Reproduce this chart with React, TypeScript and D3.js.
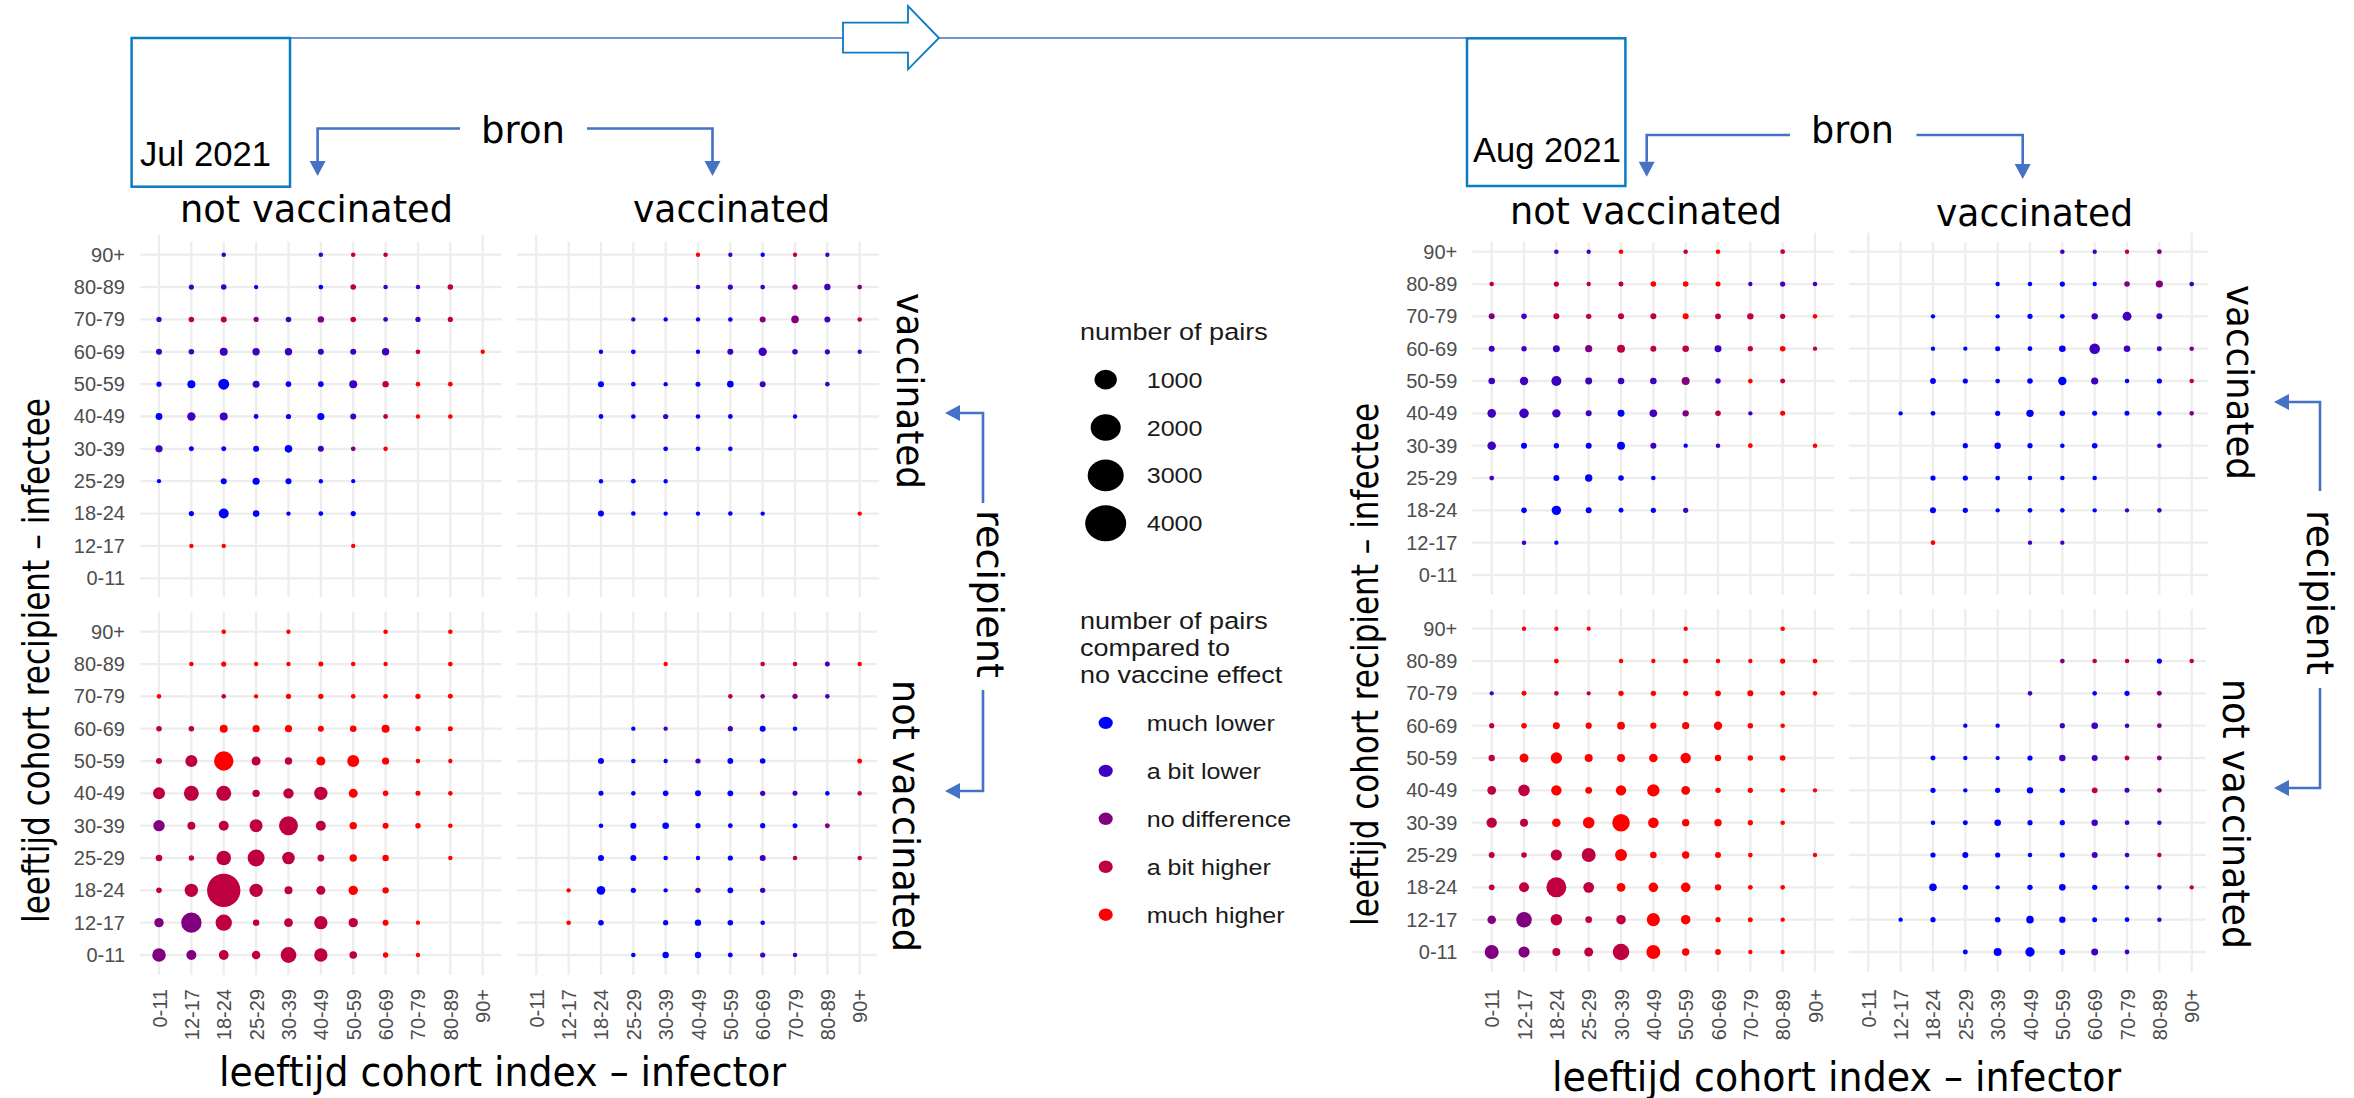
import React, { useEffect, useRef } from 'react';
import * as d3 from 'd3';

const ages = [ '0-11', '12-17', '18-24', '25-29', '30-39', '40-49', '50-59', '60-69', '70-79', '80-89', '90+' ];
const agesTopDown = [ ...ages ].reverse();

// rows run from 90+ down to 0-11, columns from 0-11 to 90+
// levels: 0 much lower .. 4 much higher, '.' = no pairs
const julVaccByUnvaccPairs = [
	[ 0, 0, 7, 0, 0, 7, 7, 7, 0, 0, 0 ],
	[ 0, 15, 21, 5, 0, 9, 21, 7, 7, 21, 0 ],
	[ 15, 21, 29, 15, 21, 38, 21, 9, 15, 15, 0 ],
	[ 29, 21, 85, 65, 65, 29, 29, 65, 9, 0, 5 ],
	[ 15, 85, 225, 53, 21, 21, 85, 38, 7, 9, 0 ],
	[ 48, 100, 85, 9, 15, 59, 29, 9, 5, 7, 0 ],
	[ 59, 12, 12, 29, 72, 29, 9, 7, 0, 0, 0 ],
	[ 4, 0, 29, 59, 29, 5, 4, 0, 0, 0, 0 ],
	[ 0, 15, 171, 43, 5, 9, 15, 0, 0, 0, 0 ],
	[ 0, 5, 5, 0, 0, 0, 5, 0, 0, 0, 0 ],
	[ 0, 0, 0, 0, 0, 0, 0, 0, 0, 0, 0 ],
];
const julVaccByUnvaccLevels = [
	'..1..133...', '.110.03113.', '1332123113.', '111111113.4', '0001001344.', '0110001344.',
	'10000124...', '0.00000....', '.000000....', '.44...4....', '...........',
];

const julVaccByVaccPairs = [
	[ 0, 0, 0, 0, 0, 5, 5, 5, 5, 5, 0 ],
	[ 0, 0, 0, 0, 0, 7, 15, 9, 18, 38, 9 ],
	[ 0, 0, 0, 5, 5, 5, 7, 29, 72, 29, 7 ],
	[ 0, 0, 5, 9, 0, 5, 29, 100, 21, 15, 5 ],
	[ 0, 0, 29, 7, 5, 12, 43, 29, 0, 7, 0 ],
	[ 0, 0, 9, 7, 15, 7, 9, 0, 5, 0, 0 ],
	[ 0, 0, 0, 0, 9, 9, 7, 0, 0, 0, 0 ],
	[ 0, 0, 5, 9, 5, 0, 0, 0, 0, 0, 0 ],
	[ 0, 0, 29, 7, 5, 5, 7, 5, 0, 0, 5 ],
	[ 0, 0, 0, 0, 0, 0, 0, 0, 0, 0, 0 ],
	[ 0, 0, 0, 0, 0, 0, 0, 0, 0, 0, 0 ],
];
const julVaccByVaccLevels = [
	'.....41031.', '.....111212', '...10002213', '..00.011111', '..000001.1.', '..00100.0..',
	'....000....', '..000......', '..000000..4', '...........', '...........',
];

const julUnvaccByUnvaccPairs = [
	[ 0, 0, 7, 0, 5, 0, 0, 7, 0, 7, 0 ],
	[ 0, 7, 15, 5, 5, 12, 7, 5, 0, 9, 0 ],
	[ 7, 0, 7, 5, 15, 15, 7, 9, 15, 12, 0 ],
	[ 21, 21, 85, 59, 59, 29, 43, 85, 18, 12, 0 ],
	[ 29, 286, 971, 124, 65, 124, 286, 59, 7, 5, 0 ],
	[ 286, 515, 515, 65, 192, 385, 124, 21, 12, 7, 0 ],
	[ 249, 85, 171, 355, 923, 171, 65, 29, 18, 7, 0 ],
	[ 43, 18, 481, 704, 327, 48, 65, 38, 0, 5, 0 ],
	[ 21, 385, 3373, 385, 85, 124, 142, 38, 0, 0, 0 ],
	[ 142, 1094, 644, 38, 116, 385, 142, 29, 5, 0, 0 ],
	[ 400, 171, 161, 108, 588, 385, 72, 18, 5, 0, 0 ],
];
const julUnvaccByUnvaccLevels = [
	'..4.4..4.4.', '.4444444.4.', '4.34444444.', '3344444444.', '3343344444.', '3333334444.',
	'2333334444.', '33333344.4.', '33333344...', '223333344..', '223333344..',
];

const julUnvaccByVaccPairs = [
	[ 0, 0, 0, 0, 0, 0, 0, 0, 0, 0, 0 ],
	[ 0, 0, 0, 0, 5, 0, 0, 7, 7, 12, 7 ],
	[ 0, 0, 0, 0, 0, 0, 7, 7, 15, 7, 0 ],
	[ 0, 0, 0, 5, 5, 0, 15, 29, 7, 0, 0 ],
	[ 0, 0, 29, 7, 5, 15, 25, 21, 0, 0, 12 ],
	[ 0, 0, 12, 7, 21, 29, 25, 15, 12, 7, 7 ],
	[ 0, 0, 7, 29, 43, 15, 9, 15, 12, 12, 0 ],
	[ 0, 0, 29, 29, 7, 5, 15, 29, 7, 0, 7 ],
	[ 0, 5, 108, 15, 5, 18, 25, 18, 0, 0, 0 ],
	[ 0, 7, 21, 0, 15, 38, 21, 7, 0, 0, 0 ],
	[ 0, 0, 0, 7, 38, 38, 12, 15, 7, 0, 0 ],
];
const julUnvaccByVaccLevels = [
	'...........', '....4..3314', '......3221.', '...01.100..', '..000100..4', '..000001103',
	'..00000002.', '..0000013.3', '.4000101...', '.40.0000...', '...000011..',
];

const augVaccByUnvaccPairs = [
	[ 0, 0, 7, 5, 7, 0, 7, 7, 0, 9, 0 ],
	[ 7, 0, 15, 5, 12, 21, 21, 12, 5, 15, 7 ],
	[ 29, 21, 29, 18, 29, 29, 29, 25, 38, 15, 7 ],
	[ 29, 18, 53, 59, 85, 29, 43, 53, 15, 21, 5 ],
	[ 43, 100, 171, 53, 43, 43, 85, 18, 9, 12, 0 ],
	[ 108, 151, 100, 29, 53, 72, 38, 21, 5, 12, 0 ],
	[ 108, 29, 18, 29, 85, 29, 5, 7, 9, 0, 7 ],
	[ 9, 0, 29, 65, 21, 7, 0, 0, 0, 0, 0 ],
	[ 0, 21, 142, 29, 12, 15, 15, 0, 0, 0, 0 ],
	[ 0, 7, 5, 0, 0, 0, 0, 0, 0, 0, 0 ],
	[ 0, 0, 0, 0, 0, 0, 0, 0, 0, 0, 0 ],
];
const augVaccByUnvaccLevels = [
	'..114.34.3.', '3.333444111', '21333343334', '11123331343', '1111112143.', '1111012314.',
	'100001014.4', '1.0000.....', '.000001....', '.10........', '...........',
];

const augVaccByVaccPairs = [
	[ 0, 0, 0, 0, 0, 0, 7, 5, 5, 9, 0 ],
	[ 0, 0, 0, 0, 5, 7, 15, 5, 21, 59, 9 ],
	[ 0, 0, 5, 0, 5, 15, 9, 38, 124, 29, 0 ],
	[ 0, 0, 5, 4, 12, 9, 43, 203, 43, 12, 7 ],
	[ 0, 0, 25, 15, 9, 21, 100, 59, 7, 15, 7 ],
	[ 0, 5, 9, 0, 15, 65, 21, 12, 12, 7, 7 ],
	[ 0, 0, 0, 15, 38, 15, 7, 21, 0, 7, 0 ],
	[ 0, 0, 15, 15, 9, 7, 7, 7, 0, 0, 0 ],
	[ 0, 0, 29, 15, 5, 9, 7, 5, 5, 7, 0 ],
	[ 0, 0, 9, 0, 0, 5, 5, 0, 0, 0, 0 ],
	[ 0, 0, 0, 0, 0, 0, 0, 0, 0, 0, 0 ],
];
const augVaccByVaccLevels = [
	'......1132.', '....0000221', '..0.000111.', '..000001112', '..000001003', '.00.0000002',
	'...00000.1.', '..000000...', '..00000011.', '..4..11....', '...........',
];

const augUnvaccByUnvaccPairs = [
	[ 0, 5, 5, 4, 0, 0, 5, 0, 0, 7, 0 ],
	[ 0, 0, 9, 0, 7, 5, 12, 7, 5, 15, 9 ],
	[ 4, 12, 7, 4, 18, 18, 15, 25, 29, 12, 7 ],
	[ 15, 21, 53, 33, 78, 33, 59, 100, 18, 7, 0 ],
	[ 38, 124, 249, 85, 85, 108, 192, 38, 18, 21, 0 ],
	[ 116, 261, 192, 48, 192, 313, 116, 18, 15, 9, 5 ],
	[ 192, 85, 108, 261, 767, 203, 65, 65, 15, 7, 0 ],
	[ 29, 21, 237, 431, 286, 43, 65, 29, 9, 0, 5 ],
	[ 25, 171, 1044, 214, 116, 151, 151, 38, 9, 7, 0 ],
	[ 108, 569, 261, 43, 151, 370, 151, 15, 12, 5, 0 ],
	[ 431, 237, 85, 124, 664, 431, 65, 25, 5, 5, 0 ],
];
const augUnvaccByUnvaccLevels = [
	'.444..4..4.', '..4.4444444', '14334444444', '3444444444.', '3444444444.', '33444444444',
	'3344444444.', '333344444.4', '3333444444.', '2233344444.', '2233344444.',
];

const augUnvaccByVaccPairs = [
	[ 0, 0, 0, 0, 0, 0, 0, 0, 0, 0, 0 ],
	[ 0, 0, 0, 0, 0, 0, 9, 7, 7, 15, 7 ],
	[ 0, 0, 0, 0, 0, 7, 0, 7, 15, 12, 0 ],
	[ 0, 0, 0, 5, 5, 0, 15, 43, 7, 9, 0 ],
	[ 0, 0, 12, 5, 4, 15, 38, 29, 12, 12, 0 ],
	[ 0, 0, 15, 5, 15, 38, 18, 25, 12, 9, 0 ],
	[ 0, 0, 7, 12, 43, 15, 15, 38, 9, 7, 0 ],
	[ 0, 0, 15, 29, 15, 7, 15, 29, 9, 5, 0 ],
	[ 0, 0, 72, 18, 5, 18, 43, 15, 5, 7, 5 ],
	[ 0, 5, 15, 0, 21, 72, 38, 12, 9, 7, 0 ],
	[ 0, 0, 0, 12, 85, 142, 29, 53, 9, 0, 0 ],
];
const augUnvaccByVaccLevels = [
	'...........', '......23303', '.....1.002.', '...00.1112.', '..00001132.', '..00000312.',
	'..00000111.', '..00000113.', '..000000013', '.00.000001.', '...000011..',
];

const sizeLegend = [ 1000, 2000, 3000, 4000 ];
const colourLegend = [ 'much lower', 'a bit lower', 'no difference', 'a bit higher', 'much higher' ];
const colourLegendPairs = 313;

const SANS = '"Liberation Sans", Arial, sans-serif';
const TITLE = '"DejaVu Sans", sans-serif';
const TICK = '#4d4d4d';
const GRID = '#ededed';
const BOX = '#0b7bc4';
const ARROW = '#4472c4';
const LEGEND_STRETCH = 1.14;

const radius = d3.scaleSqrt().domain( [ 0, 4000 ] ).range( [ 1.6, 18 ] );
const colour = d3.scaleLinear<string>().domain( [ 0, 4 ] ).range( [ '#0000ff', '#ff0000' ] ).interpolate( d3.interpolateRgb );

// tall: gridlines that reach a little higher than the others in the source image
const panels = [
	{ pairs: julVaccByUnvaccPairs, levels: julVaccByUnvaccLevels, x: [ 159, 482.7 ], y: [ 254.7, 578.3 ], hx: [ 140, 501.7 ], vy: [ 241.7, 597 ], left: true, tall: [ '0-11', '90+' ], tallTop: 235 },
	{ pairs: julVaccByVaccPairs, levels: julVaccByVaccLevels, x: [ 536.3, 859.7 ], y: [ 254.7, 578.3 ], hx: [ 516.7, 879 ], vy: [ 241.7, 597 ], tall: [ '0-11' ], tallTop: 235 },
	{ pairs: julUnvaccByUnvaccPairs, levels: julUnvaccByUnvaccLevels, x: [ 159, 482.7 ], y: [ 631.7, 955 ], hx: [ 140, 501.7 ], vy: [ 611.7, 975 ], left: true, bottom: true },
	{ pairs: julUnvaccByVaccPairs, levels: julUnvaccByVaccLevels, x: [ 536.3, 859.7 ], y: [ 631.7, 955 ], hx: [ 516.7, 877 ], vy: [ 611.7, 975 ], bottom: true },
	{ pairs: augVaccByUnvaccPairs, levels: augVaccByUnvaccLevels, x: [ 1491.7, 1815 ], y: [ 251.7, 575 ], hx: [ 1472.3, 1834 ], vy: [ 241.7, 595 ], left: true, tall: [ '90+' ], tallTop: 232.7 },
	{ pairs: augVaccByVaccPairs, levels: augVaccByVaccLevels, x: [ 1868.3, 2191.7 ], y: [ 251.7, 575 ], hx: [ 1849, 2208 ], vy: [ 241.7, 595 ], tall: [ '0-11', '90+' ], tallTop: 232.7 },
	{ pairs: augUnvaccByUnvaccPairs, levels: augUnvaccByUnvaccLevels, x: [ 1491.7, 1815 ], y: [ 628.7, 952 ], hx: [ 1472.3, 1834 ], vy: [ 609.3, 971.7 ], left: true, bottom: true },
	{ pairs: augUnvaccByVaccPairs, levels: augUnvaccByVaccLevels, x: [ 1868.3, 2191.7 ], y: [ 628.7, 952 ], hx: [ 1849, 2206 ], vy: [ 609.3, 971.7 ], bottom: true },
];

const drawPanel = ( root, panel ) => {
	const x = d3.scalePoint().domain( ages ).range( panel.x ),
		y = d3.scalePoint().domain( agesTopDown ).range( panel.y ),
		tall = panel.tall || [],
		group = root.append( 'g' ),
		grid = group.append( 'g' ).attr( 'stroke', GRID ).attr( 'stroke-width', 2.3 );

	ages.forEach( ( age ) => {
		grid.append( 'line' ).attr( 'x1', x( age ) ).attr( 'x2', x( age ) )
			.attr( 'y1', tall.includes( age ) ? panel.tallTop : panel.vy[ 0 ] ).attr( 'y2', panel.vy[ 1 ] );
		grid.append( 'line' ).attr( 'x1', panel.hx[ 0 ] ).attr( 'x2', panel.hx[ 1 ] ).attr( 'y1', y( age ) ).attr( 'y2', y( age ) );
	} );

	const cells = panel.pairs.flatMap( ( row, r ) =>
		row.map( ( n, c ) => ( { n, age: agesTopDown[ r ], source: ages[ c ], level: +panel.levels[ r ][ c ] } ) )
	).filter( ( d ) => d.n > 0 );

	group.selectAll( 'circle' ).data( cells ).enter().append( 'circle' )
		.attr( 'cx', ( d ) => x( d.source ) )
		.attr( 'cy', ( d ) => y( d.age ) )
		.attr( 'r', ( d ) => radius( d.n ) )
		.attr( 'fill', ( d ) => colour( d.level ) );

	if ( panel.left ) {
		const axis = group.append( 'g' )
			.attr( 'transform', `translate(${panel.hx[ 0 ] - 15},0)` )
			.call( d3.axisLeft( y ).tickSize( 0 ).tickPadding( 0 ) );
		axis.select( '.domain' ).remove();
		axis.selectAll( 'text' ).attr( 'fill', TICK ).attr( 'font-size', 20 ).attr( 'font-family', SANS );
	}

	if ( panel.bottom ) {
		const axis = group.append( 'g' )
			.attr( 'transform', 'translate(0,989)' )
			.attr( 'clip-path', 'url(#tickClip)' )
			.call( d3.axisBottom( x ).tickSize( 0 ) );
		axis.select( '.domain' ).remove();
		axis.selectAll( 'text' )
			.attr( 'fill', TICK )
			.attr( 'font-size', 20 )
			.attr( 'font-family', SANS )
			.attr( 'text-anchor', 'end' )
			.attr( 'transform', 'rotate(-90)' )
			.attr( 'x', 0 )
			.attr( 'y', 0 )
			.attr( 'dy', '.35em' );
	}
};

const addText = ( root, label, px, py, size, rotate = 0, length? ) => {
	const text = root.append( 'text' )
		.attr( 'transform', `translate(${px},${py}) rotate(${rotate})` )
		.attr( 'font-family', TITLE )
		.attr( 'font-size', size )
		.attr( 'fill', '#000' )
		.text( label );
	if ( length ) {
		text.attr( 'textLength', length ).attr( 'lengthAdjust', 'spacingAndGlyphs' );
	}
	return text;
};

// polyline ending in a filled triangular head
const addArrow = ( root, points ) => {
	const [ tx, ty ] = points[ points.length - 1 ],
		[ px, py ] = points[ points.length - 2 ],
		angle = Math.atan2( ty - py, tx - px ),
		head = 15,
		half = 8,
		bx = tx - head * Math.cos( angle ),
		by = ty - head * Math.sin( angle ),
		nx = -Math.sin( angle ) * half,
		ny = Math.cos( angle ) * half,
		line = [ ...points.slice( 0, -1 ), [ bx, by ] ];

	root.append( 'path' )
		.attr( 'd', d3.line()( line ) )
		.attr( 'fill', 'none' )
		.attr( 'stroke', ARROW )
		.attr( 'stroke-width', 2.6 );
	root.append( 'path' )
		.attr( 'd', d3.line()( [ [ tx, ty ], [ bx + nx, by + ny ], [ bx - nx, by - ny ] ] ) + 'Z' )
		.attr( 'fill', ARROW );
};

const drawAnnotations = ( root ) => {
	// timeline and the hollow arrow on it
	root.append( 'line' ).attr( 'x1', 290 ).attr( 'x2', 1467 ).attr( 'y1', 38 ).attr( 'y2', 38 )
		.attr( 'stroke', ARROW ).attr( 'stroke-width', 1.5 );
	root.append( 'path' )
		.attr( 'd', 'M843,22.7H908V6L939,38L908,69.3V52.7H843Z' )
		.attr( 'fill', '#fff' )
		.attr( 'stroke', BOX )
		.attr( 'stroke-width', 1.8 );

	[ [ 131.6, 38, 158.4, 148.7 ], [ 1467, 38.3, 158.4, 147.7 ] ].forEach( ( [ x, y, w, h ] ) => {
		root.append( 'rect' ).attr( 'x', x ).attr( 'y', y ).attr( 'width', w ).attr( 'height', h )
			.attr( 'fill', 'none' ).attr( 'stroke', BOX ).attr( 'stroke-width', 2.5 );
	} );

	addText( root, 'Jul 2021', 140, 165.7, 35, 0, 131 ).attr( 'font-family', SANS );
	addText( root, 'Aug 2021', 1473, 162.3, 35, 0, 148 ).attr( 'font-family', SANS );

	addText( root, 'bron', 481, 143, 38, 0, 84 );
	addText( root, 'bron', 1811, 143, 38, 0, 83 );
	addArrow( root, [ [ 460, 128.5 ], [ 317.6, 128.5 ], [ 317.6, 176 ] ] );
	addArrow( root, [ [ 587, 128.5 ], [ 712.5, 128.5 ], [ 712.5, 176 ] ] );
	addArrow( root, [ [ 1790, 135 ], [ 1646.7, 135 ], [ 1646.7, 176.7 ] ] );
	addArrow( root, [ [ 1916.5, 135 ], [ 2022.7, 135 ], [ 2022.7, 179 ] ] );

	addText( root, 'not vaccinated', 180, 222, 38, 0, 273 );
	addText( root, 'vaccinated', 633, 222, 38, 0, 197 );
	addText( root, 'not vaccinated', 1510, 224, 38, 0, 272 );
	addText( root, 'vaccinated', 1936, 226, 38, 0, 197 );

	addText( root, 'vaccinated', 897, 293, 38, 90, 196 );
	addText( root, 'not vaccinated', 893, 680, 38, 90, 272 );
	addText( root, 'vaccinated', 2227, 285, 38, 90, 195 );
	addText( root, 'not vaccinated', 2223, 679, 38, 90, 270 );

	addText( root, 'recipient', 977, 510, 38, 90, 168 );
	addText( root, 'recipient', 2307, 510, 38, 90, 165 );
	addArrow( root, [ [ 983, 503 ], [ 983, 413 ], [ 945, 413 ] ] );
	addArrow( root, [ [ 983, 690 ], [ 983, 791 ], [ 945, 791 ] ] );
	addArrow( root, [ [ 2320, 491 ], [ 2320, 402 ], [ 2274, 402 ] ] );
	addArrow( root, [ [ 2320, 688 ], [ 2320, 788 ], [ 2274, 788 ] ] );

	addText( root, 'leeftijd cohort recipient – infectee', 49, 923, 38, -90, 525 );
	addText( root, 'leeftijd cohort recipient – infectee', 1378, 926, 38, -90, 523 );
	addText( root, 'leeftijd cohort index – infector', 219, 1086, 40, 0, 567 );
	addText( root, 'leeftijd cohort index – infector', 1552, 1091, 40, 0, 569 );
};

const drawLegend = ( root ) => {
	const addLabel = ( label, x, y, size = 22 ) => root.append( 'text' )
		.attr( 'transform', `translate(${x},${y}) scale(${LEGEND_STRETCH},1)` )
		.attr( 'font-family', SANS )
		.attr( 'font-size', size )
		.attr( 'fill', '#1a1a1a' )
		.text( label );
	const addDot = ( n, y, fill ) => root.append( 'ellipse' )
		.attr( 'cx', 1105.7 )
		.attr( 'cy', y )
		.attr( 'rx', radius( n ) * LEGEND_STRETCH )
		.attr( 'ry', radius( n ) )
		.attr( 'fill', fill );

	const sizeY = d3.scalePoint().domain( sizeLegend.map( String ) ).range( [ 379.6, 523.3 ] );
	const colourY = d3.scalePoint().domain( colourLegend ).range( [ 722.9, 914.7 ] );

	addLabel( 'number of pairs', 1080, 340, 23.7 );
	sizeLegend.forEach( ( n ) => {
		addDot( n, sizeY( String( n ) ), '#000' );
		addLabel( String( n ), 1146.7, sizeY( String( n ) ) + 8 );
	} );

	addLabel( 'number of pairs', 1080, 628.6, 23.7 );
	addLabel( 'compared to', 1080, 655.6, 23.7 );
	addLabel( 'no vaccine effect', 1080, 682.9, 23.7 );
	colourLegend.forEach( ( label, i ) => {
		addDot( colourLegendPairs, colourY( label ), colour( i ) );
		addLabel( label, 1146.7, colourY( label ) + 8 );
	} );
};

const App = () => {
	const ref = useRef( null );

	useEffect( () => {
		const root = d3.select( ref.current );
		root.selectAll( '*' ).remove();
		root.append( 'clipPath' ).attr( 'id', 'tickClip' )
			.append( 'rect' ).attr( 'x', -2354 ).attr( 'y', -10 ).attr( 'width', 4708 ).attr( 'height', 61 );

		panels.forEach( ( panel ) => drawPanel( root, panel ) );
		drawAnnotations( root );
		drawLegend( root );
	}, [] );

	return <svg ref={ref} width={2354} height={1098} style={{ position: 'absolute', left: 0, top: 0, background: '#fff' }} />;
};

export default App;
